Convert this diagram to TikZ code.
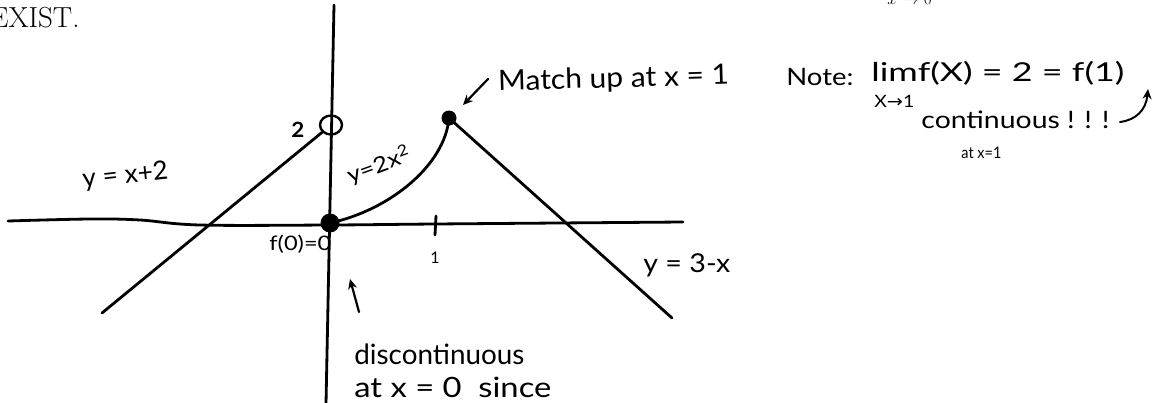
\documentclass[tikz,border=0pt]{standalone}
\usepackage{fontspec}
\usepackage{graphicx}
\newfontfamily\handfont{Lato}
\newfontfamily\symfont{DejaVu Sans}
\usetikzlibrary{arrows.meta,shapes.geometric}
\newcommand{\hw}[3]{\resizebox{#1pt}{\height}{\fontsize{#2}{#2}\selectfont\handfont #3}}
\begin{document}
\begin{tikzpicture}[x=1pt,y=-1pt,line width=2.8pt,line cap=round,line join=round,
  txt/.style={inner sep=0pt,anchor=base west},
  dot/.style={circle,fill,inner sep=0pt},
  hand arrow/.style={-{Stealth[length=10pt,width=9pt]},line width=2.2pt}]
\useasboundingbox (0,0) rectangle (1163,402);
% printed text at top
\node[inner sep=0pt,anchor=base east] (exist) at (81,27) {\fontsize{29}{29}\selectfont EXIST.};
\node[txt] (limsub) at (886,4.5) {\fontsize{17}{17}\selectfont $x\to0$};
% axes
\coordinate (ytop) at (334,5);
\coordinate (ybot) at (326,404);
\draw (ytop) -- (ybot);
\draw plot[smooth,tension=0.6] coordinates {(8,221) (90,219) (140,220) (200,225) (330,225) (435,224) (683,222)};
\draw (436,216) -- (435,235);
% points
\node[draw,ellipse,minimum width=22pt,minimum height=19pt,inner sep=0pt,line width=2.4pt] (hole) at (331,125) {};
\node[dot,minimum size=19pt] (origin) at (330,223) {};
\node[dot,minimum size=15pt] (peak) at (449,118) {};
% graph pieces
\coordinate (lend) at (102,313);
\coordinate (rend) at (672,318);
\draw (lend) -- (hole);
\draw (origin.center) .. controls (390,210) and (445,165) .. (peak.center);
\draw (peak.center) -- (rend);
% arrows
\coordinate (mA) at (488,79);
\coordinate (mB) at (463,105);
\draw[hand arrow] (mA) -- (mB);
\coordinate (dA) at (359,312);
\coordinate (dB) at (350,279);
\draw[hand arrow] (dA) -- (dB);
\coordinate (cA) at (1120,122);
\coordinate (cB) at (1148,89);
\draw[hand arrow,line width=2pt] (cA) .. controls (1136,120) and (1146,110) .. (cB);
% handwritten labels
\node[txt,rotate=1.7] (match) at (497,91) {\hw{231}{28}{Match up at x = 1}};
\node[txt] (note) at (785,85) {\hw{67}{24}{Note:}};
\node[txt] (lim) at (870,81) {\hw{253}{26}{limf(X) = 2 = f(1)}};
\node[txt] (sub) at (873,107) {\hw{40}{17}{X{\symfont →}1}};
\node[txt] (cont) at (920,128) {\hw{188}{24}{continuous ! ! !}};
\node[txt] (atx1) at (960,158) {\hw{40}{16}{at x=1}};
\node[txt,rotate=6] (yx2) at (82,188) {\hw{86}{26}{y = x+2}};
\node[txt] (f0) at (268,250) {\hw{62}{20}{f(0)=0}};
\node[txt] (two) at (290,137) {\hw{13}{21}{\bfseries 2}};
\node[txt,rotate=20] (y2x2) at (349,184) {\hw{66}{22}{y=2x\textsuperscript{2}}};
\node[txt] (y3x) at (642,272) {\hw{87}{26}{y = 3-x}};
\node[inner sep=0pt,anchor=base] (one) at (435,263) {\fontsize{16}{16}\selectfont\handfont 1};
\node[txt] (disc) at (353,364) {\hw{170}{28}{discontinuous}};
\node[txt] (since) at (353,397) {\hw{197}{28}{at x = 0~ since}};
\end{tikzpicture}
\end{document}
